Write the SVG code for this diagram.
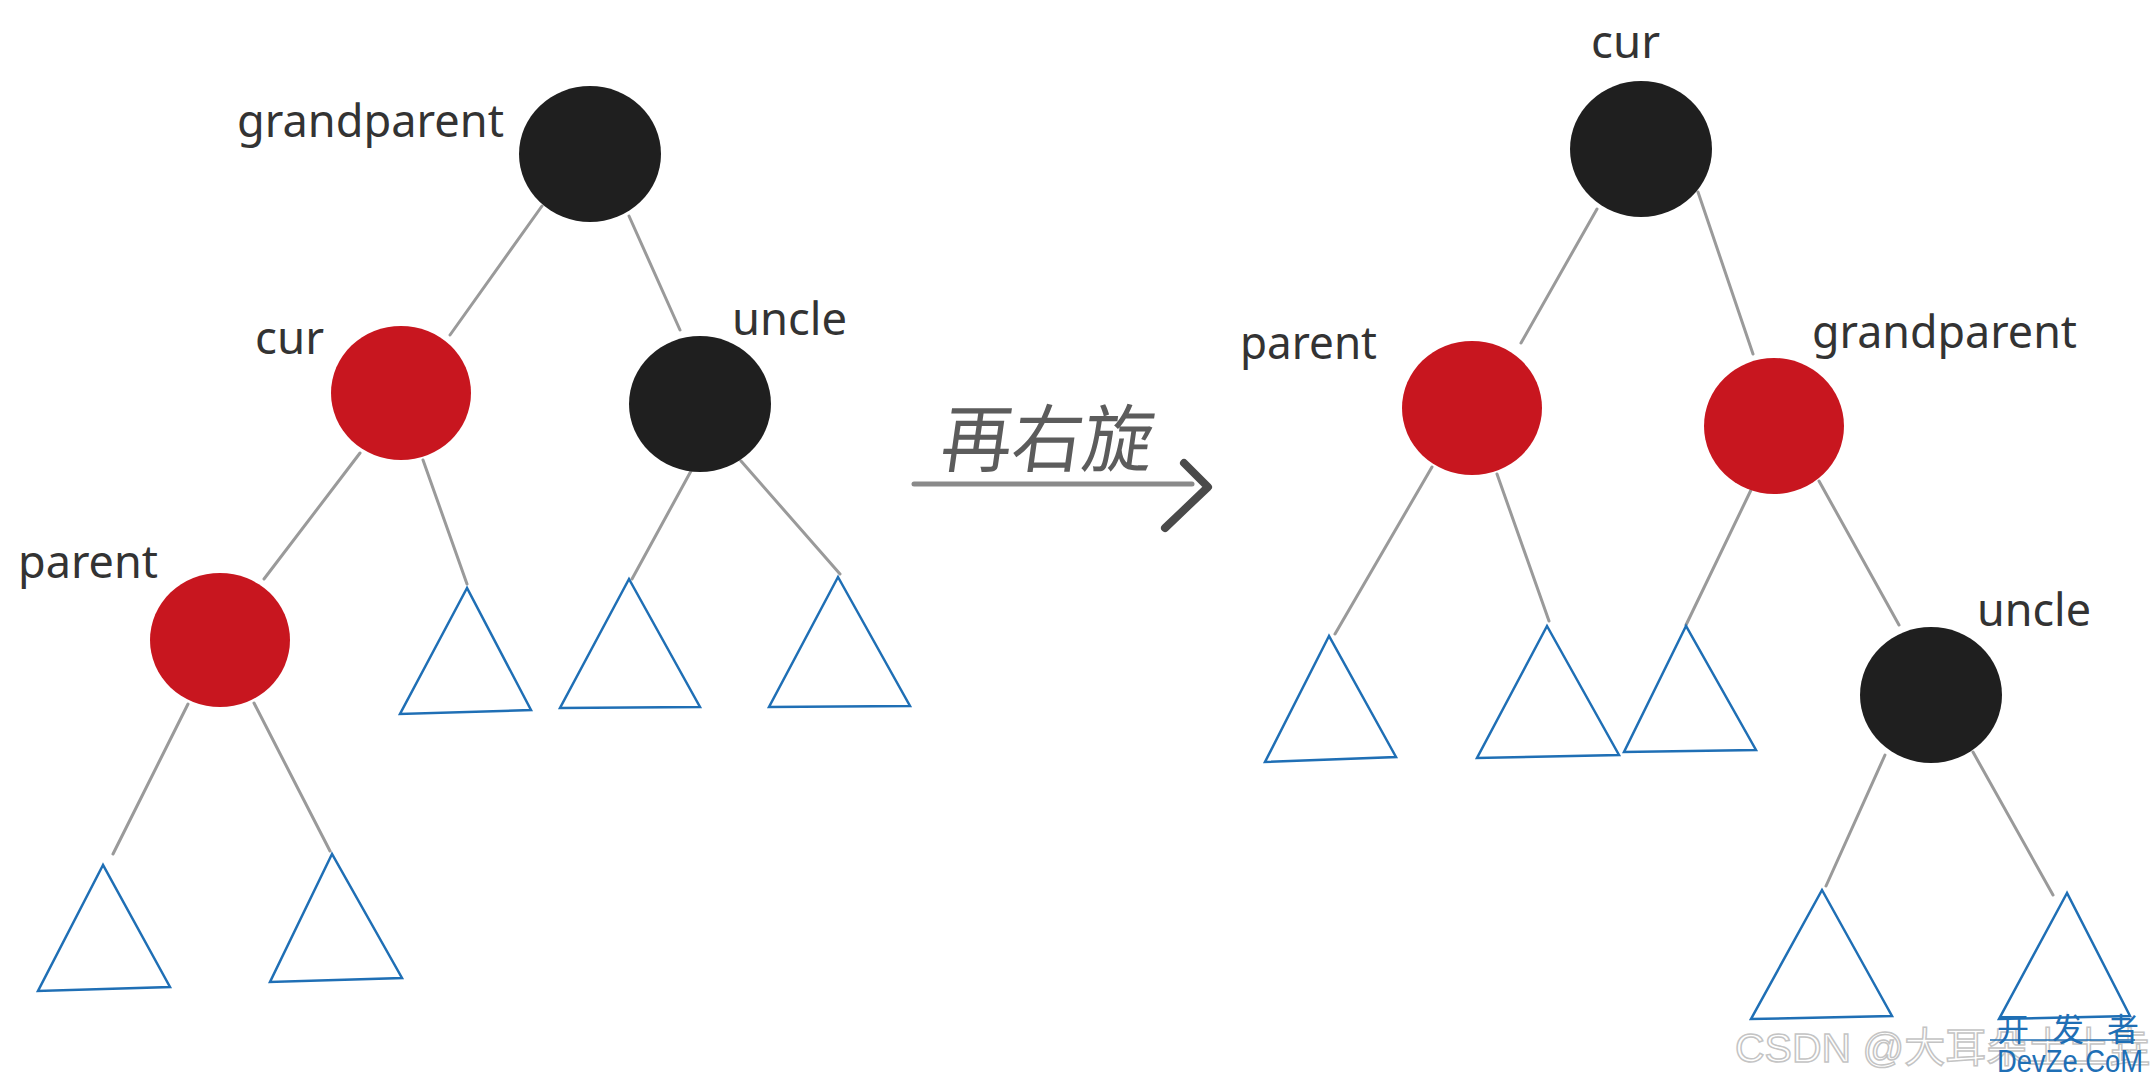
<svg xmlns="http://www.w3.org/2000/svg" width="2153" height="1080" viewBox="0 0 2153 1080">
<style>
.lbl{font-family:"Noto Sans","Open Sans",sans-serif;font-size:46px;fill:#333}
.blk{fill:#1f1f1f}
.red{fill:#c8161f}
.edge{stroke:#9a9a9a;stroke-width:3;stroke-linecap:round}
.tri{fill:none;stroke:#1f6fb5;stroke-width:2.5;stroke-linejoin:miter}
</style>
<rect width="2153" height="1080" fill="#ffffff"/>
<g id="connectors">
<line class="edge" x1="542" y1="206" x2="450" y2="335"/>
<line class="edge" x1="629" y1="216" x2="680" y2="330"/>
<line class="edge" x1="360" y1="453" x2="264" y2="579"/>
<line class="edge" x1="423" y1="460" x2="467" y2="584"/>
<line class="edge" x1="691" y1="471" x2="632" y2="579"/>
<line class="edge" x1="741" y1="461" x2="840" y2="574"/>
<line class="edge" x1="188" y1="704" x2="113" y2="854"/>
<line class="edge" x1="254" y1="703" x2="330" y2="851"/>
<line class="edge" x1="1597" y1="209" x2="1521" y2="343"/>
<line class="edge" x1="1698" y1="192" x2="1753" y2="354"/>
<line class="edge" x1="1432" y1="467" x2="1335" y2="634"/>
<line class="edge" x1="1497" y1="474" x2="1549" y2="621"/>
<line class="edge" x1="1751" y1="490" x2="1686" y2="625"/>
<line class="edge" x1="1819" y1="481" x2="1899" y2="625"/>
<line class="edge" x1="1885" y1="755" x2="1826" y2="886"/>
<line class="edge" x1="1973" y1="752" x2="2053" y2="895"/>
</g>
<g id="L-grandparent"><ellipse class="blk" cx="590" cy="154" rx="71" ry="68"/><text class="lbl" x="237" y="137" textLength="267" lengthAdjust="spacingAndGlyphs">grandparent</text></g>
<g id="L-cur"><ellipse class="red" cx="401" cy="393" rx="70" ry="67"/><text class="lbl" x="255" y="354" textLength="69" lengthAdjust="spacingAndGlyphs">cur</text></g>
<g id="L-uncle"><ellipse class="blk" cx="700" cy="404" rx="71" ry="68"/><text class="lbl" x="732" y="335" textLength="115" lengthAdjust="spacingAndGlyphs">uncle</text></g>
<g id="L-parent"><ellipse class="red" cx="220" cy="640" rx="70" ry="67"/><text class="lbl" x="18" y="578" textLength="140" lengthAdjust="spacingAndGlyphs">parent</text></g>
<g id="L-t1"><polygon class="tri" points="467,588 400,714 531,710"/></g>
<g id="L-t2"><polygon class="tri" points="629,579 560,708 700,707"/></g>
<g id="L-t3"><polygon class="tri" points="838,577 769,707 910,706"/></g>
<g id="L-t4"><polygon class="tri" points="103,865 38,991 170,987"/></g>
<g id="L-t5"><polygon class="tri" points="332,854 270,982 402,978"/></g>
<g id="R-cur"><ellipse class="blk" cx="1641" cy="149" rx="71" ry="68"/><text class="lbl" x="1591" y="58" textLength="69" lengthAdjust="spacingAndGlyphs">cur</text></g>
<g id="R-parent"><ellipse class="red" cx="1472" cy="408" rx="70" ry="67"/><text class="lbl" x="1240" y="359" textLength="137" lengthAdjust="spacingAndGlyphs">parent</text></g>
<g id="R-grandparent"><ellipse class="red" cx="1774" cy="426" rx="70" ry="68"/><text class="lbl" x="1812" y="348" textLength="265" lengthAdjust="spacingAndGlyphs">grandparent</text></g>
<g id="R-uncle"><ellipse class="blk" cx="1931" cy="695" rx="71" ry="68"/><text class="lbl" x="1977" y="626" textLength="114" lengthAdjust="spacingAndGlyphs">uncle</text></g>
<g id="R-t1"><polygon class="tri" points="1329,636 1265,762 1396,757"/></g>
<g id="R-t2"><polygon class="tri" points="1547,626 1477,758 1619,755"/></g>
<g id="R-t3"><polygon class="tri" points="1686,626 1624,752 1756,750"/></g>
<g id="R-t4"><polygon class="tri" points="1822,890 1751,1019 1892,1016"/></g>
<g id="R-t5"><polygon class="tri" points="2067,893 1999,1019 2130,1016"/></g>
<g id="rotate-arrow">
<text x="938" y="466" font-family="'Noto Sans CJK SC',sans-serif" font-size="74" fill="#5c5c5c" transform="skewX(-8) translate(66,0)" textLength="212" lengthAdjust="spacingAndGlyphs">再右旋</text>
<line x1="914" y1="484" x2="1192" y2="484" stroke="#8a8a8a" stroke-width="5" stroke-linecap="round"/>
<polyline points="1184,463 1208,487 1165,528" fill="none" stroke="#4a4a4a" stroke-width="8" stroke-linecap="round" stroke-linejoin="round"/>
</g>
<g id="watermark">
<text x="1735" y="1062" font-family="'Liberation Sans','Noto Sans CJK SC',sans-serif" font-size="41" fill="#ffffff" stroke="#c4c4c4" stroke-width="1.5">CSDN @大耳朵土土垚</text>
<line x1="1990" y1="1040" x2="2135" y2="1040" stroke="#1f6fb5" stroke-width="1.5"/>
<text x="1997" y="1041" font-family="'Noto Sans CJK SC',sans-serif" font-size="32" fill="#1f6fb5" textLength="142" lengthAdjust="spacing">开发者</text>
<text x="1997" y="1072" font-family="'Liberation Sans',sans-serif" font-size="31" fill="#1f6fb5" textLength="146" lengthAdjust="spacingAndGlyphs">DevZe.CoM</text>
</g>
</svg>
